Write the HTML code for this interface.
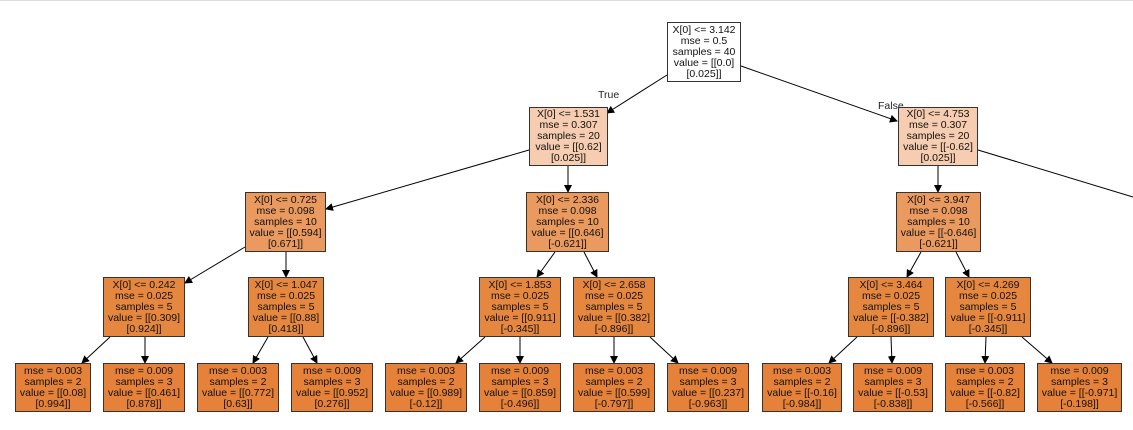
<!DOCTYPE html>
<html><head><meta charset="utf-8"><style>
body{margin:0;width:1133px;height:430px;background:#fff;position:relative;overflow:hidden;font-family:"Liberation Sans",Arial,sans-serif}
.n{position:absolute;box-sizing:border-box;border:1px solid #333;font-size:10.5px;line-height:11px;text-align:center;color:#111;display:flex;flex-direction:column;justify-content:center;white-space:nowrap}
.l1{background:#f6cdb0}.l2{background:#ea9a5e}.l3{background:#e6873f}.lf{background:#e58139}
.lab{position:absolute;font-size:10.5px;color:#222}
svg{position:absolute;left:0;top:0}
</style></head><body>
<div style="position:absolute;left:0;top:0;width:1133px;height:1px;background:#ddd"></div>
<svg width="1133" height="430">
<defs><marker id="a" markerWidth="8" markerHeight="8" refX="7" refY="4" orient="auto" markerUnits="userSpaceOnUse"><path d="M0,0 L8,4 L0,8z" fill="#000"/></marker></defs>
<g stroke="#000" stroke-width="1" marker-end="url(#a)">
<line x1="667" y1="75" x2="607" y2="113"/>
<line x1="741" y1="66" x2="897" y2="121"/>
<line x1="529" y1="150" x2="326" y2="209"/>
<line x1="568" y1="166" x2="568" y2="192"/>
<line x1="938" y1="166" x2="938" y2="192"/>
<line x1="245" y1="247" x2="185" y2="283"/>
<line x1="286" y1="252" x2="286" y2="277"/>
<line x1="555" y1="252" x2="537" y2="277"/>
<line x1="584" y1="252" x2="597" y2="277"/>
<line x1="921" y1="252" x2="907" y2="277"/>
<line x1="956" y1="252" x2="969" y2="277"/>
<line x1="110" y1="337" x2="82" y2="363"/>
<line x1="145" y1="337" x2="145" y2="363"/>
<line x1="268" y1="337" x2="253" y2="363"/>
<line x1="303" y1="337" x2="317" y2="363"/>
<line x1="485" y1="337" x2="456" y2="363"/>
<line x1="520" y1="337" x2="520" y2="363"/>
<line x1="614" y1="337" x2="614" y2="363"/>
<line x1="650" y1="337" x2="678" y2="363"/>
<line x1="857" y1="337" x2="829" y2="363"/>
<line x1="891" y1="337" x2="892" y2="363"/>
<line x1="986" y1="337" x2="985" y2="363"/>
<line x1="1022" y1="337" x2="1052" y2="363"/>
</g>
<line x1="978" y1="150" x2="1133" y2="197" stroke="#000"/>
</svg>
<div class="lab" style="left:598px;top:89px">True</div>
<div class="lab" style="left:878px;top:100px">False</div>

<div class="n" style="left:667px;top:22px;width:74px;height:60px;background:#fff">X[0] &lt;= 3.142<br>mse = 0.5<br>samples = 40<br>value = [[0.0]<br>[0.025]]</div>
<div class="n l1" style="left:529px;top:107px;width:79px;height:59px">X[0] &lt;= 1.531<br>mse = 0.307<br>samples = 20<br>value = [[0.62]<br>[0.025]]</div>
<div class="n l1" style="left:898px;top:107px;width:80px;height:59px">X[0] &lt;= 4.753<br>mse = 0.307<br>samples = 20<br>value = [[-0.62]<br>[0.025]]</div>

<div class="n l2" style="left:245px;top:192px;width:81px;height:60px">X[0] &lt;= 0.725<br>mse = 0.098<br>samples = 10<br>value = [[0.594]<br>[0.671]]</div>
<div class="n l2" style="left:526px;top:192px;width:83px;height:60px">X[0] &lt;= 2.336<br>mse = 0.098<br>samples = 10<br>value = [[0.646]<br>[-0.621]]</div>
<div class="n l2" style="left:896px;top:192px;width:85px;height:60px">X[0] &lt;= 3.947<br>mse = 0.098<br>samples = 10<br>value = [[-0.646]<br>[-0.621]]</div>

<div class="n l3" style="left:103px;top:277px;width:82px;height:60px">X[0] &lt;= 0.242<br>mse = 0.025<br>samples = 5<br>value = [[0.309]<br>[0.924]]</div>
<div class="n l3" style="left:248px;top:277px;width:76px;height:60px">X[0] &lt;= 1.047<br>mse = 0.025<br>samples = 5<br>value = [[0.88]<br>[0.418]]</div>
<div class="n l3" style="left:479px;top:277px;width:82px;height:60px">X[0] &lt;= 1.853<br>mse = 0.025<br>samples = 5<br>value = [[0.911]<br>[-0.345]]</div>
<div class="n l3" style="left:573px;top:277px;width:82px;height:60px">X[0] &lt;= 2.658<br>mse = 0.025<br>samples = 5<br>value = [[0.382]<br>[-0.896]]</div>
<div class="n l3" style="left:848px;top:277px;width:86px;height:60px">X[0] &lt;= 3.464<br>mse = 0.025<br>samples = 5<br>value = [[-0.382]<br>[-0.896]]</div>
<div class="n l3" style="left:945px;top:277px;width:86px;height:60px">X[0] &lt;= 4.269<br>mse = 0.025<br>samples = 5<br>value = [[-0.911]<br>[-0.345]]</div>

<div class="n lf" style="left:15px;top:363px;width:76px;height:49px">mse = 0.003<br>samples = 2<br>value = [[0.08]<br>[0.994]]</div>
<div class="n lf" style="left:103px;top:363px;width:82px;height:49px">mse = 0.009<br>samples = 3<br>value = [[0.461]<br>[0.878]]</div>
<div class="n lf" style="left:197px;top:363px;width:82px;height:49px">mse = 0.003<br>samples = 2<br>value = [[0.772]<br>[0.63]]</div>
<div class="n lf" style="left:291px;top:363px;width:82px;height:49px">mse = 0.009<br>samples = 3<br>value = [[0.952]<br>[0.276]]</div>
<div class="n lf" style="left:385px;top:363px;width:82px;height:49px">mse = 0.003<br>samples = 2<br>value = [[0.989]<br>[-0.12]]</div>
<div class="n lf" style="left:479px;top:363px;width:82px;height:49px">mse = 0.009<br>samples = 3<br>value = [[0.859]<br>[-0.496]]</div>
<div class="n lf" style="left:573px;top:363px;width:82px;height:49px">mse = 0.003<br>samples = 2<br>value = [[0.599]<br>[-0.797]]</div>
<div class="n lf" style="left:667px;top:363px;width:82px;height:49px">mse = 0.009<br>samples = 3<br>value = [[0.237]<br>[-0.963]]</div>
<div class="n lf" style="left:762px;top:363px;width:80px;height:49px">mse = 0.003<br>samples = 2<br>value = [[-0.16]<br>[-0.984]]</div>
<div class="n lf" style="left:853px;top:363px;width:80px;height:49px">mse = 0.009<br>samples = 3<br>value = [[-0.53]<br>[-0.838]]</div>
<div class="n lf" style="left:945px;top:363px;width:80px;height:49px">mse = 0.003<br>samples = 2<br>value = [[-0.82]<br>[-0.566]]</div>
<div class="n lf" style="left:1037px;top:363px;width:85px;height:49px">mse = 0.009<br>samples = 3<br>value = [[-0.971]<br>[-0.198]]</div>
</body></html>
